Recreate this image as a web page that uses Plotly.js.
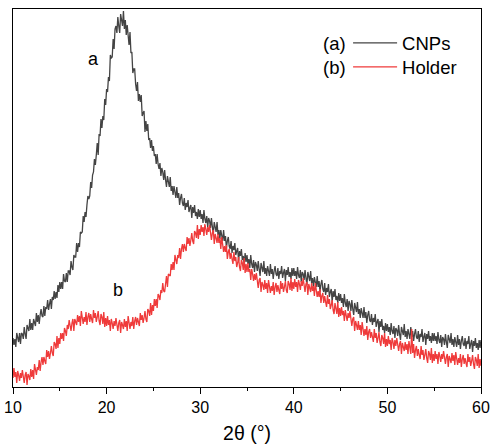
<!DOCTYPE html>
<html>
<head>
<meta charset="utf-8">
<script src="https://cdn.plot.ly/plotly-3.0.1.min.js"></script>
<style>html,body{margin:0;padding:0;background:#fff;}#chart{width:490px;height:446px;}</style>
</head>
<body>
<div id="chart"></div>
<script>
// 2θ grid (degrees), 0.1° steps from 10 to 60
var twoThetaStart = 10;
var twoThetaStep = 0.1;

// (a) CNPs intensity (a.u.)
var intensityCNPs = [
49,42,48,40,54, 47,45,54,43,54, 53,48,60,53,48, 62,58,56,68,57,
64,57,68,64,61, 74,65,72,63,72, 78,71,70,81,71, 80,78,87,77,83,
88,78,90,87,96, 88,95,89,102,95, 105,98,105,98,113, 106,105,114,105,116,
116,112,126,120,117, 132,130,130,144,135, 144,140,155,154,155, 171,165,175,170,182,
191,188,191,205,199, 212,215,228,222,232, 244,232,253,251,268, 259,271,267,288,282,
298,295,310,306,332, 329,330,348,338,358, 361,354,370,361,354, 373,366,361,376,358,
367,352,362,352,342, 355,334,335,314,318, 318,303,296,305,286, 293,285,292,271,274,
276,255,266,256,263, 247,249,239,247,236, 241,231,233,223,233, 223,218,224,211,219,
215,207,217,207,200, 211,205,200,210,196, 201,192,201,194,189, 200,189,194,182,189,
193,184,181,189,177, 184,180,187,175,179, 182,169,180,174,182, 171,175,168,178,170,
177,168,173,164,177, 168,164,171,160,169, 166,159,169,160,153, 165,159,155,165,152,
157,148,157,151,146, 157,146,151,139,146, 150,141,138,146,134, 141,137,144,132,136,
139,126,136,131,138, 127,131,123,134,125, 132,123,128,119,132, 123,119,127,115,125,
122,116,126,118,111, 124,119,115,126,113, 119,111,121,115,111, 123,113,118,108,116,
121,113,111,119,108, 116,113,121,109,114, 118,106,117,112,120, 110,115,108,119,111,
119,111,116,108,120, 112,109,117,105,115, 113,107,117,109,102, 115,109,106,116,104,
109,100,110,104,100, 111,100,106,95,103, 107,98,95,104,92, 99,95,103,90,95,
98,85,96,90,98, 87,91,84,94,86, 93,84,89,80,93, 84,80,88,76,86,
83,76,87,78,72, 84,78,75,85,73, 78,69,79,73,69, 80,69,75,64,72,
76,67,65,73,62, 69,65,73,60,65, 68,55,66,60,68, 57,61,54,64,56,
63,55,60,52,64, 56,53,61,49,59, 57,51,62,53,47, 60,55,52,63,50,
56,48,58,53,48, 60,50,56,46,53, 58,50,48,56,45, 53,50,58,45,50,
54,42,53,48,56, 46,51,44,54,46, 54,46,51,43,55, 47,44,52,40,50,
48,42,53,45,39, 52,47,44,54,42, 48,40,50,45,40, 52,42,48,38,46,
51,43,41,49,38, 46,43,51,38,43, 47,35,46,41,49, 39,44,37,47,39,
47
];

// (b) Holder intensity (a.u.)
var intensityHolder = [
9,19,10,15,4, 16,12,6,14,9, 17,7,4,12,15, 2,13,11,7,18,
10,17,8,23,15, 12,20,17,27,16, 25,30,22,30,26, 23,37,30,36,28,
34,41,34,31,45, 43,38,51,39,49, 43,54,48,54,46, 59,56,51,62,58,
67,58,56,64,68, 56,68,65,62,72, 65,71,61,76,67, 63,70,65,75,62,
70,74,65,73,68, 64,77,69,74,65, 70,76,66,62,73, 70,63,75,60,69,
61,71,62,67,56, 68,64,58,66,61, 69,59,56,64,67, 54,65,62,58,68,
60,66,56,71,62, 58,65,61,70,58, 66,70,62,69,65, 61,74,67,72,64,
69,76,68,65,78, 76,71,84,72,82, 76,88,81,88,79, 93,91,87,97,94,
104,96,95,106,111, 100,113,112,111,123, 117,125,117,132,125, 123,132,129,139,128,
138,143,135,143,139, 136,150,143,149,141, 147,154,146,143,156, 154,149,162,148,158,
152,162,155,160,151, 163,158,152,160,155, 162,151,147,154,157, 143,153,149,144,153,
144,149,138,150,140, 135,141,135,142,128, 135,138,128,134,128, 123,135,126,130,120,
124,130,120,116,127, 124,117,129,114,123, 115,124,115,118,107, 118,113,106,113,107,
114,103,99,107,109, 95,105,102,97,107, 98,104,94,107,98, 94,101,96,105,92,
100,104,95,102,97, 93,106,98,104,95, 100,106,97,94,106, 103,97,109,96,105,
98,108,100,105,95, 107,103,97,106,101, 109,99,95,103,105, 92,103,99,95,104,
96,101,91,104,95, 90,96,90,98,84, 91,94,84,91,85, 80,92,83,88,78,
82,87,77,73,84, 80,73,85,70,79, 71,80,72,76,66, 77,72,66,74,69,
76,65,61,68,70, 56,66,62,57,66, 57,62,52,65,56, 51,58,52,61,47,
55,58,49,55,50, 45,58,49,54,44, 49,55,45,41,52, 49,43,54,40,48,
41,51,43,47,37, 49,45,38,47,41, 49,39,36,43,46, 33,44,40,36,45,
37,43,33,46,37, 33,58,34,43,29, 37,41,31,38,32, 28,41,32,37,27,
32,38,29,24,36, 33,27,39,24,33, 26,36,28,33,23, 35,31,25,33,28,
36,26,23,30,33, 20,31,28,24,34, 26,32,22,35,26, 22,29,24,33,20,
28,32,23,29,24, 20,33,25,30,21, 26,32,23,18,30, 27,21,33,19,28,
21
];

var twoTheta = intensityCNPs.map(function(_, i){ return +(twoThetaStart + i * twoThetaStep).toFixed(2); });

var xTickVals = [10, 20, 30, 40, 50, 60];
var xTickText = ['10', '20', '30', '40', '50', '60'];
var seriesNames = ['CNPs', 'Holder'];
var seriesTags = ['(a)', '(b)'];
var curveLabels = ['a', 'b'];

var font = 'Arial, "Liberation Sans", sans-serif';

var traces = [
  {x: twoTheta, y: intensityCNPs, type: 'scatter', mode: 'lines', name: seriesNames[0],
   legend: 'legend', line: {color: '#444444', width: 1.3}},
  {x: twoTheta, y: intensityHolder, type: 'scatter', mode: 'lines', name: seriesNames[1],
   legend: 'legend2', line: {color: '#ef3a3a', width: 1.3}}
];

var legendFont = {family: font, size: 18.5, color: '#000'};

var layout = {
  width: 490, height: 446,
  margin: {l: 13, r: 9, t: 9, b: 59},
  paper_bgcolor: '#fff', plot_bgcolor: '#fff',
  font: {family: font, size: 15, color: '#000'},
  showlegend: true,
  legend: {x: 0.716, y: 0.9595, xanchor: 'left', yanchor: 'top', bgcolor: 'rgba(0,0,0,0)',
           itemwidth: 44, font: legendFont},
  legend2: {x: 0.716, y: 0.896, xanchor: 'left', yanchor: 'top', bgcolor: 'rgba(0,0,0,0)',
           itemwidth: 44, font: legendFont},
  xaxis: {range: [10, 60], showgrid: false, zeroline: false,
          showline: true, mirror: true, linecolor: '#000', linewidth: 1,
          ticks: 'outside', ticklen: 6, tickwidth: 1, tickcolor: '#000',
          tickvals: xTickVals, ticktext: xTickText,
          minor: {dtick: 5, ticks: 'outside', ticklen: 3, tickcolor: '#000', showgrid: false},
          tickfont: {family: font, size: 16, color: '#000'},
          title: {text: '2θ (°)', font: {family: font, size: 19.5, color: '#000'}, standoff: 11}},
  yaxis: {range: [0, 378], showgrid: false, zeroline: false, showticklabels: false, ticks: '',
          showline: true, mirror: true, linecolor: '#000', linewidth: 1},
  annotations: [
    {x: 18.55, y: 328, xref: 'x', yref: 'y', text: curveLabels[0], showarrow: false,
     font: {family: font, size: 18, color: '#000'}},
    {x: 21.2, y: 97, xref: 'x', yref: 'y', text: curveLabels[1], showarrow: false,
     font: {family: font, size: 18, color: '#000'}},
    {x: 0.686, y: 344/378, xref: 'paper', yref: 'paper', xanchor: 'center', yanchor: 'middle',
     text: seriesTags[0], showarrow: false, font: legendFont},
    {x: 0.686, y: 320/378, xref: 'paper', yref: 'paper', xanchor: 'center', yanchor: 'middle',
     text: seriesTags[1], showarrow: false, font: legendFont}
  ]
};

Plotly.newPlot('chart', traces, layout, {staticPlot: true, displayModeBar: false});
</script>
</body>
</html>
